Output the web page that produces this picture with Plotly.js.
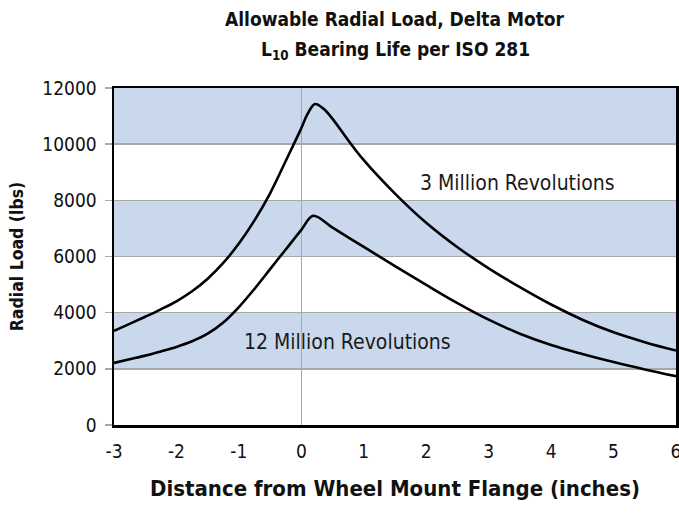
<!DOCTYPE html>
<html>
<head>
<meta charset="utf-8">
<script src="https://cdn.plot.ly/plotly-3.0.1.min.js"></script>
<style>html,body{margin:0;padding:0;background:#fff;}#chart{width:679px;height:513px;}</style>
</head>
<body>
<div id="chart"></div>
<script>
// Distance from wheel mount flange (inches) and allowable radial load (lbs)
var x3M = [-3, -2.75, -2.5, -2.25, -2, -1.75, -1.5, -1.25, -1, -0.75, -0.5, -0.25, 0, 0.1, 0.22, 0.36, 0.5, 0.75, 1.0, 1.5, 2.0, 2.5, 3.0, 3.5, 4.0, 4.5, 5.0, 5.5, 6.0];
var y3M = [3350, 3600, 3855, 4120, 4405, 4760, 5210, 5770, 6460, 7285, 8250, 9400, 10570, 11080, 11430, 11250, 10900, 10140, 9430, 8240, 7200, 6330, 5580, 4910, 4290, 3750, 3300, 2950, 2650];

var x12M = [-3, -2.75, -2.5, -2.25, -2, -1.75, -1.5, -1.25, -1, -0.75, -0.5, -0.25, 0, 0.19, 0.5, 1.0, 1.5, 2.0, 2.5, 3.0, 3.5, 4.0, 4.5, 5.0, 5.5, 6.0];
var y12M = [2210, 2340, 2470, 2620, 2780, 2980, 3250, 3650, 4200, 4850, 5550, 6250, 6950, 7450, 7030, 6340, 5660, 4990, 4340, 3750, 3250, 2850, 2530, 2240, 1980, 1740];

var seriesLabels = ['3 Million Revolutions', '12 Million Revolutions'];
var labelX = [3.46, 0.745];
var labelY = [8600, 2970];

var bandRanges = [[2000, 4000], [6000, 8000], [10000, 12000]];
var xTicks = [-3, -2, -1, 0, 1, 2, 3, 4, 5, 6];
var yTicks = [0, 2000, 4000, 6000, 8000, 10000, 12000];

var narrow = 'DejaVu Sans Condensed, DejaVu Sans, sans-serif';

var traces = [
  {x: x3M, y: y3M, mode: 'lines', name: seriesLabels[0],
   line: {color: '#000', width: 2.6, shape: 'spline', smoothing: 1}, hoverinfo: 'skip'},
  {x: x12M, y: y12M, mode: 'lines', name: seriesLabels[1],
   line: {color: '#000', width: 2.6, shape: 'spline', smoothing: 1}, hoverinfo: 'skip'}
];

var shapes = bandRanges.map(function (b) {
  return {type: 'rect', xref: 'paper', yref: 'y', x0: 0, x1: 1, y0: b[0], y1: b[1],
          fillcolor: '#c9d8ed', line: {width: 0}, layer: 'below'};
});

var annotations = [
  {text: 'Allowable Radial Load, Delta Motor', xref: 'paper', yref: 'paper', x: 0.5, y: 1,
   xanchor: 'center', yanchor: 'middle', yshift: 69, showarrow: false,
   font: {family: narrow, size: 19, color: '#111', weight: 'bold'}},
  {text: 'L<sub>10</sub> Bearing Life per ISO 281', xref: 'paper', yref: 'paper', x: 0.5, y: 1,
   xanchor: 'center', yanchor: 'middle', yshift: 38, showarrow: false,
   font: {family: narrow, size: 19, color: '#111', weight: 'bold'}}
];
for (var i = 0; i < seriesLabels.length; i++) {
  annotations.push({text: seriesLabels[i], x: labelX[i], y: labelY[i], xref: 'x', yref: 'y',
    showarrow: false, xanchor: 'center', yanchor: 'middle',
    font: {family: narrow, size: 21, color: '#1a1a1a'}});
}

var layout = {
  width: 679, height: 513,
  margin: {l: 114, r: 3, t: 88, b: 88},
  paper_bgcolor: '#fff', plot_bgcolor: '#fff',
  showlegend: false,
  xaxis: {
    range: [-3, 6], tickvals: xTicks, ticktext: xTicks.map(String),
    showgrid: false, zeroline: true, zerolinecolor: '#a8a8a8', zerolinewidth: 1.5,
    showline: true, linecolor: '#000', linewidth: 2.5, mirror: true,
    ticks: '', ticklabelstandoff: 8, ticklabeloverflow: 'allow',
    tickfont: {family: narrow, size: 19, color: '#111'},
    title: {text: 'Distance from Wheel Mount Flange (inches)', standoff: 20,
            font: {family: narrow, size: 22, color: '#111', weight: 'bold'}}
  },
  yaxis: {
    range: [0, 12000], tickvals: yTicks, ticktext: yTicks.map(String),
    showgrid: true, gridcolor: '#a8a8a8', gridwidth: 1.5, zeroline: false,
    showline: true, linecolor: '#000', linewidth: 2.5, mirror: true,
    ticks: 'outside', ticklen: 7, tickcolor: '#a8a8a8', tickwidth: 1.5,
    ticklabelstandoff: 4,
    tickfont: {family: narrow, size: 19, color: '#111'},
    title: {text: 'Radial Load (lbs)', standoff: 14,
            font: {family: narrow, size: 17.5, color: '#111', weight: 'bold'}}
  },
  shapes: shapes,
  annotations: annotations
};

Plotly.newPlot('chart', traces, layout, {staticPlot: true, displayModeBar: false});
</script>
</body>
</html>
